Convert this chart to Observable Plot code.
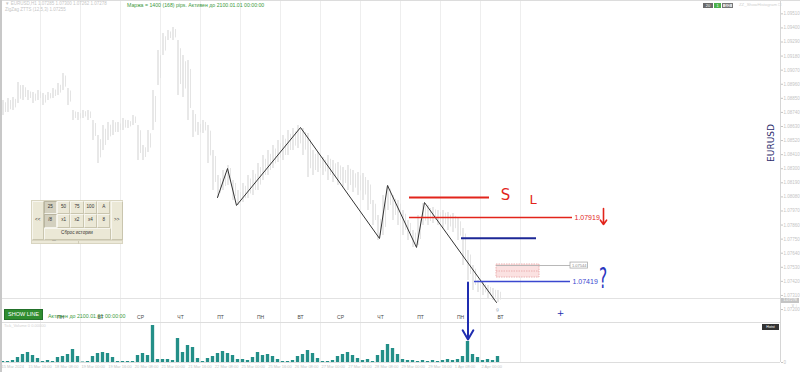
<!DOCTYPE html>
<html><head><meta charset="utf-8">
<script src="https://cdn.jsdelivr.net/npm/d3@7"></script>
<script src="https://cdn.jsdelivr.net/npm/@observablehq/plot@0.6"></script>
<style>
html,body{margin:0;padding:0;background:#fff;}
#wrap{position:relative;width:800px;height:372px;overflow:hidden;font-family:"Liberation Sans",Arial,sans-serif;background:#fff;}
#wrap svg{position:absolute;left:0;}
.abs{position:absolute;white-space:nowrap;line-height:1;}
.btn{position:absolute;box-sizing:border-box;border:1px solid #f7f6ef;border-right-color:#c9c5ae;border-bottom-color:#c9c5ae;background:#ebe8d6;color:#333;font-size:4.6px;display:flex;align-items:center;justify-content:center;}
.btn.on{background:#d3d0bf;border-color:#b9b5a0 #f3f2ea #f3f2ea #b9b5a0;}
</style></head>
<body><div id="wrap"></div>
<script>
// ---- data ----
const priceHigh = [1.08833,1.08849,1.08857,1.08974,1.08950,1.08911,1.08896,1.08911,1.08888,1.08896,
1.08927,1.08966,1.09044,1.08927,1.08755,1.08739,1.08755,1.08755,1.08677,1.08560,
1.08638,1.08661,1.08677,1.08661,1.08692,1.08677,1.08716,1.08638,1.08481,1.08599,
1.08911,1.09224,1.09357,1.09380,1.09403,1.09302,1.09185,1.09146,1.08755,1.08661,
1.08677,1.08638,1.08442,1.08247,1.08286,1.08325,1.08208,1.08130,1.08185,1.08247,
1.08286,1.08341,1.08403,1.08442,1.08481,1.08521,1.08560,1.08599,1.08614,1.08638,
1.08614,1.08575,1.08442,1.08427,1.08388,1.08403,1.08364,1.08349,1.08310,1.08325,
1.08286,1.08271,1.08263,1.08208,1.08052,1.07935,1.08091,1.08169,1.08091,1.08052,
1.07974,1.07896,1.07817,1.07935,1.08028,1.08013,1.07997,1.07974,1.07974,1.07958,
1.07950,1.07911,1.07833,1.07661,1.07544,1.07427,1.07411,1.07388,1.07364,1.07349];
const priceLow = [1.08716,1.08739,1.08755,1.08810,1.08833,1.08833,1.08810,1.08833,1.08794,1.08833,
1.08849,1.08872,1.08911,1.08794,1.08677,1.08677,1.08692,1.08677,1.08521,1.08341,
1.08442,1.08521,1.08560,1.08583,1.08599,1.08614,1.08638,1.08364,1.08364,1.08427,
1.08599,1.08950,1.09185,1.09302,1.09302,1.08872,1.08857,1.08677,1.08544,1.08560,
1.08575,1.08341,1.08130,1.08075,1.08130,1.08169,1.08052,1.08013,1.08036,1.08067,
1.08091,1.08130,1.08208,1.08247,1.08302,1.08349,1.08364,1.08403,1.08442,1.08458,
1.08403,1.08231,1.08247,1.08271,1.08247,1.08208,1.08192,1.08169,1.08153,1.08130,
1.08114,1.08091,1.08052,1.07974,1.07856,1.07739,1.07778,1.07974,1.07896,1.07856,
1.07778,1.07739,1.07685,1.07700,1.07856,1.07856,1.07872,1.07856,1.07833,1.07817,
1.07802,1.07739,1.07544,1.07427,1.07349,1.07333,1.07310,1.07286,1.07271,1.07255];
const tickVolume = [100,100,200,500,800,1000,700,400,100,200,
100,500,600,800,1300,600,50,100,600,900,
1000,900,500,100,100,100,100,700,900,700,
3700,300,300,300,200,2400,1000,1700,1500,400,
100,400,600,900,1100,900,700,300,300,200,
500,1000,700,800,600,300,100,100,200,600,
800,1200,900,400,100,100,200,600,800,1000,
700,400,200,300,100,700,1200,1800,1400,800,
300,200,200,100,200,100,200,100,200,300,
200,300,600,2100,800,500,200,300,200,600];
// zigzag vertices: bar hour, price
const zigzagHour  = [130.2,136.2,141.6,180.0,227.4,232.2,249.6,254.4,297.6];
const zigzagPrice = [1.08075,1.08302,1.08013,1.08622,1.07755,1.08169,1.07685,1.08036,1.07255];
// drawn levels: price, start hour, end hour, colour, width
const levelPrice = [1.08075,1.07919,1.07757,1.07419];
const levelStart = [245.4,245.4,276.6,284.4];
const levelEnd   = [293.4,343.2,321.6,342.0];
const levelColor = ["#e2241b","#e2241b","#1c2796","#3a47cf"];
const levelWidth = [2,1.5,2,1.5];
const levelLabel = ["","1.07919","","1.07419"];
const bidPrice = 1.07286;
const priceTicks = [1.0951,1.0940,1.0929,1.0918,1.0907,1.0896,1.0885,1.0874,1.0863,1.0852,1.0841,1.0830,1.0819,1.0808,1.0797,1.0786,1.0775,1.0764,1.0753,1.0742,1.0731,1.0720];
const gridHours = [24,48,72,96,120,144,168,192,216,240,264,288,312];
const dayCenters = [12,36,60,84,108,132,156,180,204,228,252,276,300];
const dayNames = ["ПТ","ПН","ВТ","СР","ЧТ","ПТ","ПН","ВТ","СР","ЧТ","ПТ","ПН","ВТ"];
const dateHours = [0,16,32,48,64,80,96,112,128,144,160,176,192,208,224,240,256,272,288];
const dateLabels = ["15 Mar 2024","15 Mar 16:00","18 Mar 08:00","19 Mar 00:00","19 Mar 16:00","20 Mar 08:00","21 Mar 00:00","21 Mar 16:00","22 Mar 08:00","25 Mar 00:00","25 Mar 16:00","26 Mar 08:00","27 Mar 00:00","27 Mar 16:00","28 Mar 08:00","29 Mar 00:00","29 Mar 16:00","1 Apr 08:00","2 Apr 00:00"];
const volumeMax = 4000;
// annotation objects (hour, price)
const pinkBox = {h1:297.6,h2:323.4,p1:1.07450,p2:1.07552,mid:1.07501};
const grayLevel = {p:1.07544,h1:297.6,h2:342.0,label:"1.07544",boxP1:1.07520,boxP2:1.07567,boxH2:352.5};
const redArrow = {h:361.8,p1:1.07989,p2:1.07864};
const blueArrow = {h:280.5,p1:1.07411,p2:1.06966};
const handText = [
  {t:"S",h:303.0,p:1.08090,c:"#e2241b",s:15},
  {t:"L",h:319.5,p:1.08060,c:"#e2241b",s:13},
  {t:"?",h:361.5,p:1.07440,c:"#2a36c0",s:28},
  {t:"+",h:336.0,p:1.07169,c:"#2030b0",s:9},
  {t:"ᵍ",h:298.2,p:1.07190,c:"#8a9ab0",s:7}
];
const panelRow1 = ["25","50","75","100","A"];
const panelRow2 = ["/8","x1","x2","x4","8"];

// ---- tables ----
const bars = priceHigh.map((hi,i)=>({h:1.5+3*i,hi,lo:priceLow[i]}));
const vols = tickVolume.map((v,i)=>({h:1.5+3*i,v}));
const zz = zigzagHour.map((h,i)=>({h,p:zigzagPrice[i]}));
const levels = levelPrice.map((p,i)=>({p,h1:levelStart[i],h2:levelEnd[i],c:levelColor[i],w:levelWidth[i],label:levelLabel[i]}));
const dayTable = dayCenters.map((h,i)=>({h,name:dayNames[i]}));
const dateTable = dateHours.map((h,i)=>({h,label:dateLabels[i]}));

const wrap = document.getElementById("wrap");
const font = "Liberation Sans, Arial, sans-serif";

// volume pane (below, drawn first)
const vol = Plot.plot({
  width:800,height:72,marginTop:22,marginBottom:10,marginLeft:0,marginRight:20,
  style:{background:"transparent",fontFamily:font,overflow:"visible"},
  x:{domain:[0,468],axis:null},
  y:{type:"linear",domain:[0,volumeMax],axis:null},
  marks:[
    Plot.ruleX(gridHours,{stroke:"#eeeeee"}),
    Plot.ruleY([0,volumeMax],{stroke:"#dddddd"}),
    Plot.rect(vols,{x1:d=>d.h-1.0,x2:d=>d.h+1.0,y1:()=>0,y2:"v",fill:"#238f88"}),
    Plot.ruleX(gridHours,{x:d=>d,y1:()=>volumeMax,y2:()=>volumeMax*1.18,stroke:"#8a8a8a"}),
    Plot.text(dayTable,{x:"h",y:()=>volumeMax,text:"name",dy:-5,fontSize:5,fill:"#4a4a4a"}),
    Plot.text(dateTable,{x:"h",y:()=>0,text:"label",dy:4.5,dx:1,textAnchor:"start",fontSize:4,fill:"#c2c2c2"}),
    Plot.axisY({anchor:"right",ticks:[0],tickSize:2,tickPadding:1,fontSize:4.5,color:"#c4c4c4"}),
    Plot.ruleX([468],{stroke:"#d6d6d6"})
  ]
});
vol.style.top = "300px";
wrap.appendChild(vol);

const main = Plot.plot({
  width:800,height:372,marginTop:0,marginBottom:50,marginLeft:0,marginRight:20,
  style:{background:"transparent",fontFamily:font,overflow:"visible"},
  x:{domain:[0,468],axis:null},
  y:{domain:[1.070987,1.096143],axis:null},
  marks:[
    Plot.ruleX(gridHours,{stroke:"#eeeeee"}),
    Plot.ruleY([bidPrice],{stroke:"#e2e2e2"}),
    Plot.ruleX(bars,{x:"h",y1:"lo",y2:"hi",stroke:"#d9d9d9",strokeWidth:1.2}),
    Plot.ruleX(bars,{x:d=>d.h+1.5,y1:d=>d.lo+(d.hi-d.lo)*0.2,y2:d=>d.hi-(d.hi-d.lo)*0.15,stroke:"#e4e4e4",strokeWidth:1}),
    Plot.rect([pinkBox],{x1:"h1",x2:"h2",y1:"p1",y2:"p2",fill:"#fbe1e1",stroke:"#e7a2a2",strokeWidth:0.8,strokeDasharray:"1.5,1"}),
    Plot.ruleY([pinkBox],{y:"mid",x1:"h1",x2:"h2",stroke:"#e7a2a2",strokeWidth:0.8,strokeDasharray:"1.5,1"}),
    Plot.ruleY([grayLevel],{y:"p",x1:"h1",x2:"h2",stroke:"#b8b8b8",strokeWidth:1}),
    Plot.rect([grayLevel],{x1:"h2",x2:"boxH2",y1:"boxP1",y2:"boxP2",fill:"#fff",stroke:"#aaaaaa",strokeWidth:0.8}),
    Plot.text([grayLevel],{x:d=>(d.h2+d.boxH2)/2,y:"p",text:"label",fontSize:4,fill:"#888"}),
    Plot.line(zz,{x:"h",y:"p",stroke:"#333333",strokeWidth:1}),
    Plot.ruleY(levels,{y:"p",x1:"h1",x2:"h2",stroke:"c",strokeWidth:"w"}),
    Plot.text(levels.filter(d=>d.label),{x:d=>d.h2+1.2,y:"p",text:"label",fill:"c",fontSize:7,textAnchor:"start"}),
    Plot.arrow([redArrow],{x1:"h",x2:"h",y1:"p1",y2:"p2",stroke:"#e2241b",strokeWidth:1.6,headLength:6,headAngle:70}),
    Plot.arrow([blueArrow],{x1:"h",x2:"h",y1:"p1",y2:"p2",stroke:"#1f2db0",strokeWidth:2,headLength:8,headAngle:60}),
    Plot.text(handText,{x:"h",y:"p",text:"t",fill:"c",fontSize:"s",fontFamily:"DejaVu Sans"}),
    Plot.axisY({anchor:"right",ticks:priceTicks,tickFormat:d3.format(".5f"),tickSize:2,tickPadding:1,fontSize:4.5,color:"#c4c4c4"}),
    Plot.ruleX([468],{stroke:"#d6d6d6"})
  ]
});
main.style.top = "0px";
wrap.appendChild(main);
// make the "?" narrower like the hand-drawn one
d3.select(main).selectAll("text").filter(function(){return this.textContent==="?";})
  .each(function(){
    const x=+this.getAttribute("x")||0, y=+this.getAttribute("y")||0;
    const t=this.getAttribute("transform")||"";
    if (t) this.setAttribute("transform", t+" scale(0.55,1)");
    else this.setAttribute("transform", `translate(${x},${y}) scale(0.55,1) translate(${-x},${-y})`);
  });

// ---- HTML overlays ----
function add(html, css){const d=document.createElement("div");d.className="abs";d.innerHTML=html;d.style.cssText+=css;wrap.appendChild(d);return d;}
add("","left:0;top:0;width:800px;height:0;border-top:1px solid #dcdcdc;");
add("","left:0;top:0;width:0;height:372px;border-left:2px solid #c8c8c8;");
add("▼ EURUSD,H1 1.07285 1.07300 1.07262 1.07278","left:5px;top:2px;font-size:4.5px;color:#c6c6c6;");
add("ZigZag ZTTS (12,5,3) 1.07255","left:5px;top:8px;font-size:4.5px;color:#c6c6c6;");
add("Маржа = 1400 (168) pips. Активен до 2100.01.01 00:00:00","left:127px;top:2.5px;font-size:5.2px;color:#3e9a3e;");
add("20","left:703px;top:3px;width:10px;height:5px;background:#6a6a6a;color:#fff;font-size:4px;text-align:center;line-height:5px;");
add("1","left:714px;top:3px;width:7px;height:5px;background:#4caf4c;color:#fff;font-size:4px;text-align:center;line-height:5px;");
add("1/2","left:722px;top:3px;width:11px;height:5px;box-sizing:border-box;border:0.8px solid #777;background:#ddd;color:#555;font-size:4px;text-align:center;line-height:4px;");
add("ZZ_ShowHistogram ☐","left:739px;top:3px;font-size:4.3px;color:#cfcfcf;");
add("EURUSD","left:771px;top:143px;transform:translate(-50%,-50%) rotate(-90deg);font-family:'DejaVu Sans',sans-serif;font-size:9px;color:#2c2c6c;");
add("1.07278","left:781px;top:298px;width:18px;height:4.5px;background:#c4c4c4;color:#fff;font-size:3.8px;line-height:4.5px;text-align:center;");
add("SHOW LINE","left:4px;top:309px;width:39px;height:11px;box-sizing:border-box;background:#2f8d2f;border:1px solid #22702a;color:#fff;font-size:5.5px;line-height:9px;text-align:center;");
add("Активен до 2100.01.01 00:00:00","left:48px;top:313.5px;font-size:5.3px;color:#3e9a3e;");
add("Tick_Volume 0 0.00000","left:4px;top:324px;font-size:4px;color:#d2d2d2;");
add("Hotst","left:762px;top:324px;width:17px;height:6px;background:#333;color:#fff;font-size:3.6px;line-height:6px;text-align:center;");

// control panel
const panel = add("","left:31px;top:200px;width:92px;height:44px;box-sizing:border-box;background:#ece9d8;border:1px solid #d9d5c1;");
function pbtn(txt,l,t,w,h,on){const b=document.createElement("div");b.className="btn"+(on?" on":"");b.textContent=txt;b.style.left=l+"px";b.style.top=t+"px";b.style.width=w+"px";b.style.height=h+"px";panel.appendChild(b);}
panelRow1.forEach((t,i)=>pbtn(t,11.5+i*13.4,0,13.4,13,i===0));
panelRow2.forEach((t,i)=>pbtn(t,11.5+i*13.4,13,13.4,13.5,i===0));
pbtn("Сброс истории",11.5,26.5,67,12.5,false);
pbtn("<<",0,0,11.5,39,false);
pbtn(">>",78.5,0,12.5,39,false);
const strip = document.createElement("div");
strip.style.cssText="position:absolute;left:0;top:39px;width:90px;height:3px;border-top:1px solid #d9d5c1;font-size:4px;color:#555;";
strip.innerHTML='<span style="position:absolute;left:20px;top:-3px;">—</span><span style="position:absolute;left:46px;top:0;height:3px;border-left:1px solid #cfcbb6;"></span>';
panel.appendChild(strip);
</script>
</body></html>
